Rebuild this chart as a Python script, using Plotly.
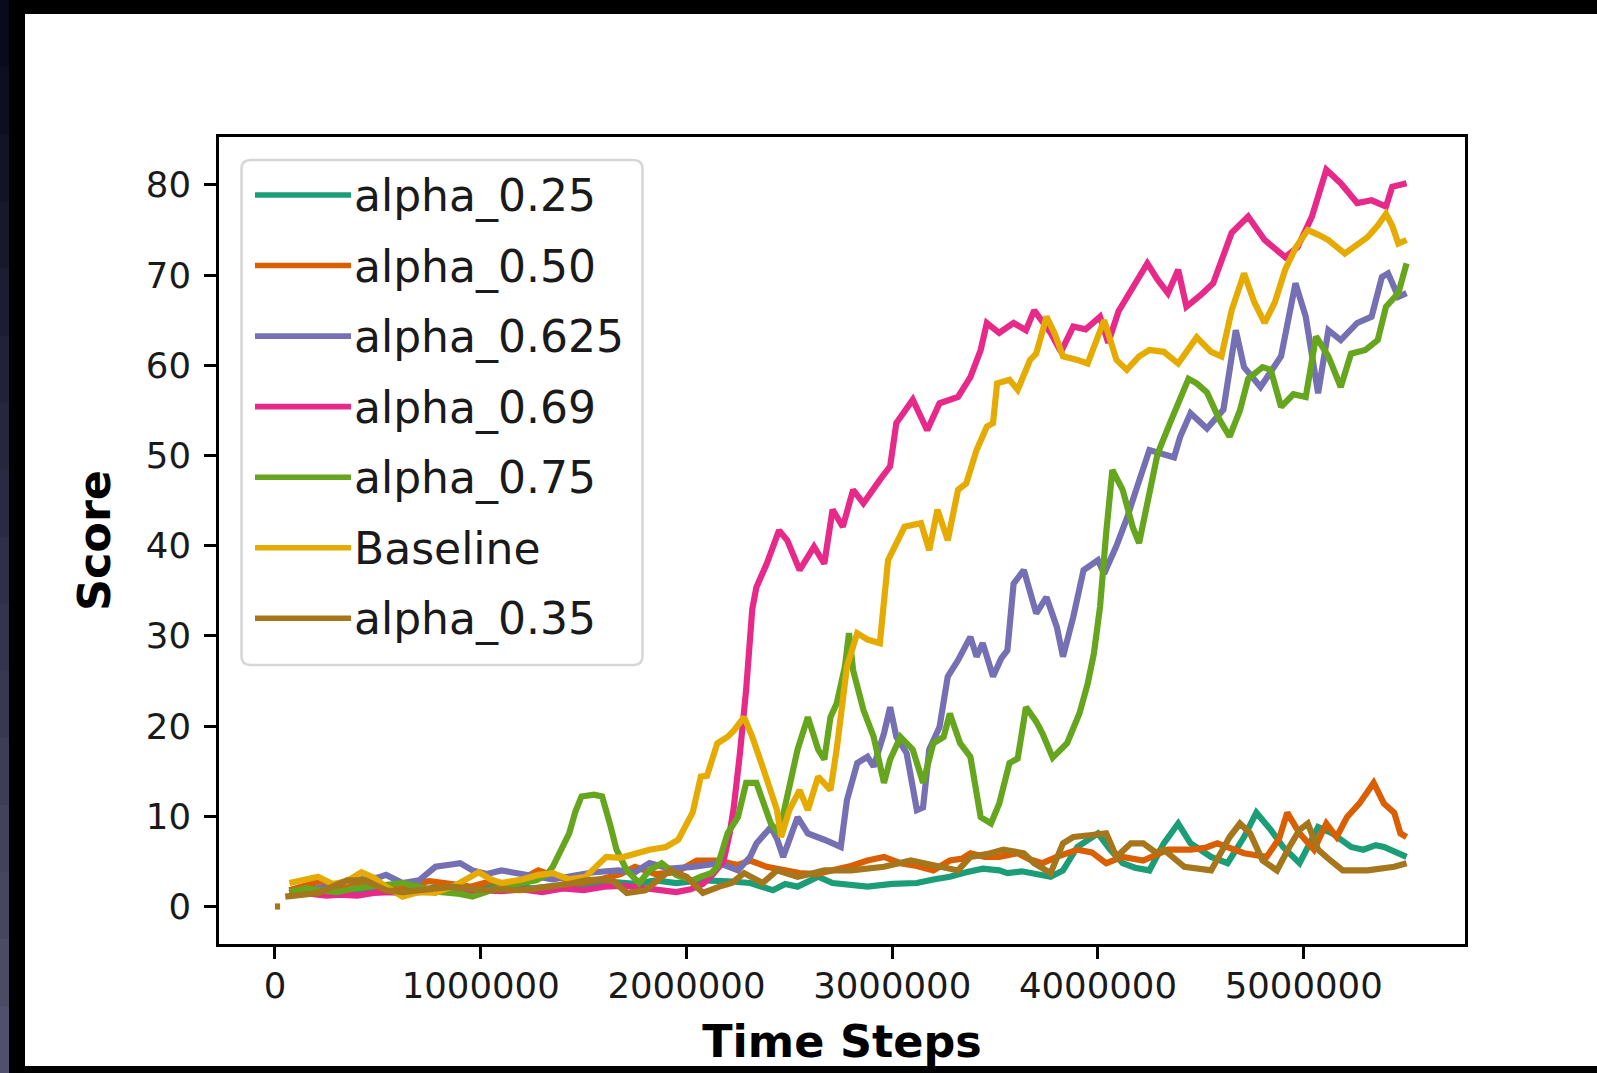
import plotly.graph_objects as go

# ---------------- data (x in millions of time steps, y = score) ----------------
SCALE = 1_000_000

alpha_025 = [(0.07,1.2),(0.15,1.5),(0.25,1.8),(0.35,1.6),(0.45,2.0),(0.55,2.2),(0.65,1.8),(0.75,2.0),
             (0.85,2.3),(0.95,1.9),(1.05,2.1),(1.15,2.4),(1.25,2.0),(1.35,2.2),(1.45,2.5),(1.55,2.3),
             (1.65,2.7),(1.75,2.5),(1.85,2.9),(1.95,2.6),(2.07,2.9),(2.2,2.8),(2.31,2.6),(2.42,1.8),
             (2.48,2.5),(2.54,2.2),(2.64,3.3),(2.71,2.6),(2.8,2.4),(2.88,2.2),(3.0,2.5),(3.12,2.6),
             (3.2,3.0),(3.28,3.3),(3.36,3.8),(3.44,4.2),(3.52,4.0),(3.56,3.7),(3.63,3.9),(3.69,3.7),
             (3.77,3.3),(3.83,4.0),(3.9,6.6),(4.0,8.1),(4.06,6.3),(4.12,4.8),(4.18,4.3),(4.25,4.0),
             (4.32,7.0),(4.39,9.2),(4.45,7.0),(4.55,5.5),(4.63,4.8),(4.71,7.7),(4.77,10.4),(4.84,8.5),
             (4.9,6.6),(4.98,4.8),(5.03,7.0),(5.07,8.8),(5.14,8.1),(5.23,6.6),(5.29,6.3),(5.35,6.8),
             (5.39,6.6),(5.45,6.0),(5.5,5.5)]

alpha_050 = [(0.07,1.8),(0.15,2.3),(0.22,2.8),(0.3,2.2),(0.38,2.6),(0.46,2.4),(0.55,2.0),(0.65,2.4),
             (0.75,2.8),(0.85,2.5),(0.95,2.2),(1.05,2.8),(1.15,2.4),(1.28,4.0),(1.38,3.2),(1.48,2.6),
             (1.58,3.0),(1.68,3.6),(1.75,4.4),(1.85,3.6),(1.95,3.8),(2.05,5.1),(2.15,5.1),(2.25,4.6),
             (2.31,5.1),(2.39,4.4),(2.47,4.0),(2.55,3.7),(2.63,3.6),(2.71,4.0),(2.8,4.5),(2.88,5.1),
             (2.96,5.5),(3.04,4.8),(3.12,4.5),(3.2,4.0),(3.28,5.1),(3.34,5.3),(3.38,5.9),(3.45,5.5),
             (3.52,5.5),(3.61,5.9),(3.67,5.2),(3.73,4.8),(3.8,5.5),(3.9,6.3),(3.97,6.0),(4.04,4.8),
             (4.12,5.5),(4.22,5.1),(4.34,6.3),(4.45,6.3),(4.52,6.5),(4.58,7.0),(4.65,6.4),(4.71,5.9),
             (4.82,5.5),(4.88,7.5),(4.92,10.4),(4.98,8.1),(5.05,6.3),(5.11,9.2),(5.16,7.7),(5.21,9.9),
             (5.27,11.4),(5.34,13.7),(5.39,11.4),(5.44,10.4),(5.47,8.1),(5.5,7.7)]

alpha_0625 = [(0.07,1.5),(0.13,1.8),(0.2,2.0),(0.28,2.3),(0.35,2.8),(0.42,3.0),(0.5,3.2),(0.54,3.5),
              (0.62,2.6),(0.7,2.9),(0.78,4.4),(0.84,4.6),(0.9,4.8),(0.96,4.0),(1.03,3.6),(1.1,4.0),
              (1.18,3.7),(1.27,3.3),(1.35,3.0),(1.45,3.4),(1.55,3.8),(1.67,4.0),(1.75,3.8),(1.82,4.8),
              (1.92,4.2),(2.03,4.4),(2.1,4.6),(2.16,4.8),(2.25,4.0),(2.31,5.5),(2.34,7.0),(2.41,8.8),
              (2.44,7.5),(2.47,5.5),(2.54,9.9),(2.59,8.1),(2.67,7.4),(2.75,6.6),(2.78,11.8),(2.83,15.9),
              (2.88,16.6),(2.91,15.5),(2.96,19.2),(2.99,22.1),(3.02,18.8),(3.07,17.0),(3.12,10.7),
              (3.15,11.0),(3.18,17.4),(3.23,19.9),(3.27,25.5),(3.32,27.3),(3.38,29.9),(3.41,27.7),
              (3.44,29.2),(3.49,25.5),(3.53,27.5),(3.56,28.4),(3.59,35.8),(3.64,37.3),(3.7,32.5),
              (3.75,34.3),(3.8,31.0),(3.83,27.7),(3.88,32.1),(3.93,37.3),(4.0,38.4),(4.03,36.9),
              (4.09,40.0),(4.14,43.0),(4.19,46.5),(4.25,50.6),(4.31,50.2),(4.37,49.8),(4.4,52.1),
              (4.45,54.7),(4.53,53.0),(4.61,55.1),(4.67,63.9),(4.71,59.8),(4.79,57.6),(4.89,61.0),
              (4.96,69.1),(5.01,65.4),(5.07,56.9),(5.12,63.9),(5.18,62.8),(5.26,64.7),(5.33,65.4),
              (5.38,69.8),(5.41,70.2),(5.46,67.6),(5.5,68.0)]

alpha_069 = [(0.07,1.5),(0.12,1.8),(0.18,1.4),(0.25,1.2),(0.32,1.3),(0.4,1.2),(0.48,1.5),(0.56,1.6),
             (0.64,1.4),(0.72,1.7),(0.8,1.9),(0.9,1.6),(1.0,1.8),(1.1,1.7),(1.2,1.9),(1.3,1.6),
             (1.4,2.0),(1.5,1.8),(1.6,2.2),(1.7,2.3),(1.8,2.0),(1.88,1.7),(1.95,1.6),(2.02,1.9),
             (2.08,2.5),(2.13,3.6),(2.18,5.0),(2.21,8.1),(2.23,11.0),(2.26,17.0),(2.29,24.0),
             (2.32,33.0),(2.34,35.4),(2.39,38.0),(2.45,41.7),(2.49,40.6),(2.55,37.3),(2.62,39.9),
             (2.67,38.0),(2.71,44.0),(2.76,42.1),(2.81,46.2),(2.86,44.7),(2.94,47.3),(2.99,48.8),
             (3.02,53.6),(3.1,56.2),(3.17,52.8),(3.23,55.8),(3.32,56.5),(3.38,58.7),(3.43,61.7),
             (3.46,64.7),(3.52,63.6),(3.59,64.7),(3.65,63.9),(3.69,66.1),(3.77,63.6),(3.82,61.5),
             (3.88,64.3),(3.94,64.0),(4.01,65.4),(4.05,62.5),(4.1,66.0),(4.16,68.4),(4.24,71.3),
             (4.29,69.5),(4.34,68.0),(4.39,70.6),(4.43,66.5),(4.5,67.8),(4.56,69.1),(4.65,74.7),
             (4.73,76.5),(4.81,73.9),(4.91,72.0),(4.97,73.1),(5.04,76.5),(5.11,81.7),(5.18,80.2),
             (5.26,78.0),(5.33,78.3),(5.4,77.6),(5.43,79.8),(5.5,80.2)]

alpha_075 = [(0.07,1.6),(0.15,2.0),(0.22,1.8),(0.3,1.6),(0.38,2.0),(0.46,2.2),(0.54,2.4),(0.62,2.6),
             (0.7,2.2),(0.8,1.6),(0.9,1.4),(0.96,1.1),(1.05,1.8),(1.15,2.4),(1.27,2.9),(1.32,3.5),
             (1.35,4.4),(1.4,6.5),(1.43,8.1),(1.46,10.5),(1.49,12.2),(1.55,12.4),(1.59,12.2),
             (1.63,9.0),(1.66,6.3),(1.71,4.0),(1.77,2.6),(1.82,4.0),(1.88,4.8),(1.95,3.5),(2.03,2.9),
             (2.07,3.3),(2.12,3.7),(2.15,4.4),(2.2,8.1),(2.25,9.9),(2.29,13.7),(2.34,13.7),(2.38,11.0),
             (2.41,9.2),(2.45,8.1),(2.5,13.7),(2.54,17.4),(2.59,21.0),(2.64,17.4),(2.67,16.3),
             (2.7,21.0),(2.73,22.5),(2.77,26.6),(2.79,30.3),(2.81,26.2),(2.86,21.8),(2.91,18.8),
             (2.96,13.7),(2.99,16.3),(3.04,18.8),(3.1,17.4),(3.15,13.7),(3.2,18.1),(3.25,18.8),
             (3.28,21.4),(3.33,18.1),(3.38,16.6),(3.43,9.9),(3.48,9.2),(3.52,11.4),(3.57,15.9),
             (3.61,16.4),(3.65,22.1),(3.7,20.5),(3.73,19.2),(3.78,16.5),(3.85,18.1),(3.91,21.4),
             (3.95,24.7),(3.98,28.0),(4.01,33.2),(4.04,41.4),(4.07,48.4),(4.12,46.2),(4.17,42.0),
             (4.2,40.3),(4.24,45.1),(4.29,50.2),(4.35,53.6),(4.4,56.5),(4.44,58.5),(4.48,58.0),
             (4.53,57.0),(4.59,54.0),(4.64,52.1),(4.69,55.0),(4.73,58.5),(4.8,59.8),(4.84,59.5),
             (4.89,55.4),(4.95,56.8),(5.01,56.5),(5.06,63.2),(5.12,61.0),(5.18,57.6),(5.23,61.3),
             (5.3,61.7),(5.36,62.8),(5.4,66.5),(5.46,68.0),(5.5,71.3)]

baseline = [(0.07,2.6),(0.13,2.9),(0.21,3.3),(0.28,2.5),(0.35,2.8),(0.42,3.8),(0.48,3.2),(0.54,2.2),
            (0.62,1.1),(0.7,1.6),(0.78,1.5),(0.88,2.4),(0.99,3.8),(1.05,3.0),(1.1,2.6),(1.2,3.0),
            (1.28,3.5),(1.35,3.7),(1.43,3.0),(1.51,3.3),(1.57,4.6),(1.61,5.5),(1.68,5.4),(1.75,5.9),
            (1.82,6.3),(1.9,6.6),(1.96,7.4),(2.03,10.4),(2.07,14.4),(2.1,14.5),(2.15,18.1),(2.2,18.8),
            (2.23,19.5),(2.28,21.0),(2.32,18.8),(2.37,15.5),(2.41,12.5),(2.44,10.7),(2.46,7.7),
            (2.5,10.7),(2.55,12.9),(2.59,10.7),(2.64,14.4),(2.7,12.9),(2.73,17.4),(2.78,26.6),
            (2.83,30.3),(2.88,29.6),(2.94,29.2),(2.98,38.4),(3.06,42.1),(3.14,42.5),(3.18,39.5),
            (3.22,44.0),(3.27,40.6),(3.32,46.2),(3.36,46.9),(3.41,50.6),(3.46,53.2),(3.49,53.6),
            (3.51,58.0),(3.57,58.4),(3.61,57.3),(3.67,60.6),(3.7,61.3),(3.75,65.4),(3.79,63.5),
            (3.83,61.0),(3.9,60.6),(3.95,60.2),(4.03,65.0),(4.09,60.6),(4.14,59.5),(4.2,61.0),
            (4.25,61.7),(4.32,61.5),(4.39,60.2),(4.48,63.1),(4.55,61.5),(4.6,61.0),(4.65,66.1),
            (4.71,70.2),(4.76,67.0),(4.81,64.7),(4.86,67.0),(4.91,70.6),(4.96,73.0),(5.02,75.0),
            (5.07,74.5),(5.12,73.9),(5.2,72.4),(5.26,73.5),(5.31,74.2),(5.36,75.5),(5.4,76.8),
            (5.43,75.5),(5.46,73.5),(5.5,73.9)]

alpha_035 = [(0.0,0.0),(0.025,0.0),(None,None),
             (0.05,1.1),(0.12,1.2),(0.21,1.5),(0.28,2.2),(0.35,2.9),(0.44,2.9),(0.54,1.8),(0.62,1.6),
             (0.7,1.8),(0.78,2.0),(0.86,2.2),(0.94,2.0),(1.02,1.8),(1.1,1.9),(1.19,1.8),(1.27,2.0),
             (1.35,2.2),(1.43,2.5),(1.51,2.9),(1.58,3.0),(1.64,2.9),(1.71,1.5),(1.8,1.8),(1.86,3.0),
             (1.92,4.0),(2.0,3.3),(2.08,1.5),(2.16,2.2),(2.22,2.6),(2.28,3.7),(2.37,2.6),(2.44,4.0),
             (2.54,3.3),(2.6,3.6),(2.67,4.0),(2.8,4.0),(2.96,4.4),(3.09,5.1),(3.22,4.4),(3.32,4.0),
             (3.38,5.5),(3.46,5.8),(3.54,6.3),(3.64,5.9),(3.69,4.8),(3.77,3.7),(3.83,7.0),(3.88,7.7),
             (3.96,7.9),(4.04,8.1),(4.09,5.5),(4.16,7.0),(4.22,7.0),(4.28,6.0),(4.32,6.3),(4.42,4.4),
             (4.55,4.0),(4.61,6.5),(4.64,7.7),(4.69,9.2),(4.74,8.1),(4.8,5.1),(4.87,4.0),(4.93,6.6),
             (4.98,8.5),(5.02,9.2),(5.07,6.3),(5.13,5.1),(5.19,4.0),(5.31,4.0),(5.44,4.4),(5.5,4.8)]

series_names = ["alpha_0.25", "alpha_0.50", "alpha_0.625", "alpha_0.69", "alpha_0.75", "Baseline", "alpha_0.35"]
series_data = [alpha_025, alpha_050, alpha_0625, alpha_069, alpha_075, baseline, alpha_035]
series_colors = ["#1b9e77", "#d95f02", "#7570b3", "#e7298a", "#66a61e", "#e6ab02", "#a6761d"]

x_ticks = [0, 1000000, 2000000, 3000000, 4000000, 5000000]
y_ticks = [0, 10, 20, 30, 40, 50, 60, 70, 80]

# ---------------- layout geometry (pixels) ----------------
W, H = 1597, 1073
PL, PR, PT, PB = 219, 1465, 137, 944          # plot area in pixels
FONT = "DejaVu Sans"
LW = 6.2


def px(x):
    return (x - PL) / (PR - PL)


def py(y):
    return (PB - y) / (PB - PT)


fig = go.Figure()
for name, data, color in zip(series_names, series_data, series_colors):
    xs = [None if p[0] is None else p[0] * SCALE for p in data]
    ys = [p[1] for p in data]
    fig.add_trace(go.Scatter(x=xs, y=ys, mode="lines", name=name,
                             line=dict(color=color, width=LW), connectgaps=False,
                             showlegend=False))

shapes = []
# white page on black frame
shapes.append(dict(type="rect", xref="paper", yref="paper", layer="below",
                   x0=px(25), x1=px(W + 5), y0=py(1066), y1=py(14),
                   fillcolor="white", line=dict(width=0)))
# blue-grey strip on the left edge (gradient)
n = 16
c0, c1 = (10, 10, 30), (80, 80, 108)
for i in range(n):
    t = i / (n - 1)
    col = "rgb(%d,%d,%d)" % tuple(int(a + (b - a) * t) for a, b in zip(c0, c1))
    shapes.append(dict(type="rect", xref="paper", yref="paper", layer="below",
                       x0=px(-2), x1=px(9), y0=py(H * (i + 1) / n + 1), y1=py(H * i / n),
                       fillcolor=col, line=dict(width=0)))

# legend frame (rounded)
lx0, lx1, ly0, ly1, r = 241.5, 642.5, 160, 665, 9
path = ("M {a},{b} L {c},{b} Q {d},{b} {d},{e} L {d},{f} Q {d},{g} {c},{g} "
        "L {a},{g} Q {h},{g} {h},{f} L {h},{e} Q {h},{b} {a},{b} Z").format(
    a=px(lx0 + r), b=py(ly0), c=px(lx1 - r), d=px(lx1), e=py(ly0 + r),
    f=py(ly1 - r), g=py(ly1), h=px(lx0))
shapes.append(dict(type="path", xref="paper", yref="paper", path=path,
                   fillcolor="rgba(255,255,255,0.8)", line=dict(color="#d6d6d6", width=2.5)))

annotations = []
row0, step = 195.0, 70.55
for i, (name, color) in enumerate(zip(series_names, series_colors)):
    yy = row0 + i * step
    shapes.append(dict(type="line", xref="paper", yref="paper",
                       x0=px(255), x1=px(351), y0=py(yy), y1=py(yy),
                       line=dict(color=color, width=LW - 0.6)))
    annotations.append(dict(xref="paper", yref="paper", x=px(352), y=py(yy + 1),
                            xanchor="left", yanchor="middle", showarrow=False, text=name,
                            font=dict(family=FONT, size=44, color="#1a1a1a")))

axis_common = dict(showline=True, mirror=True, linecolor="black", linewidth=2.8,
                   ticks="outside", ticklen=12, tickwidth=2.8, tickcolor="black",
                   showgrid=False, zeroline=False,
                   tickfont=dict(family=FONT, size=35.5, color="#1a1a1a"))

fig.update_layout(
    width=W, height=H,
    margin=dict(l=PL, r=W - PR, t=PT, b=H - PB, autoexpand=False),
    paper_bgcolor="black", plot_bgcolor="white",
    shapes=shapes, annotations=annotations,
    xaxis=dict(range=[-272000, 5784000], tickvals=x_ticks,
               ticktext=[str(v) for v in x_ticks], ticklabelstandoff=-4,
               title=dict(text="Time Steps", standoff=22,
                          font=dict(family=FONT, size=44.5, color="black", weight="bold")),
               **axis_common),
    yaxis=dict(range=[-4.16, 85.32], tickvals=y_ticks,
               ticktext=[str(v) for v in y_ticks], ticklabelstandoff=6,
               title=dict(text="Score", standoff=22,
                          font=dict(family=FONT, size=44.5, color="black", weight="bold")),
               **axis_common),
    showlegend=False,
)

fig.write_html("out.html", config={"displayModeBar": False},
               post_script="document.body.style.margin='0';document.body.style.overflow='hidden';")
